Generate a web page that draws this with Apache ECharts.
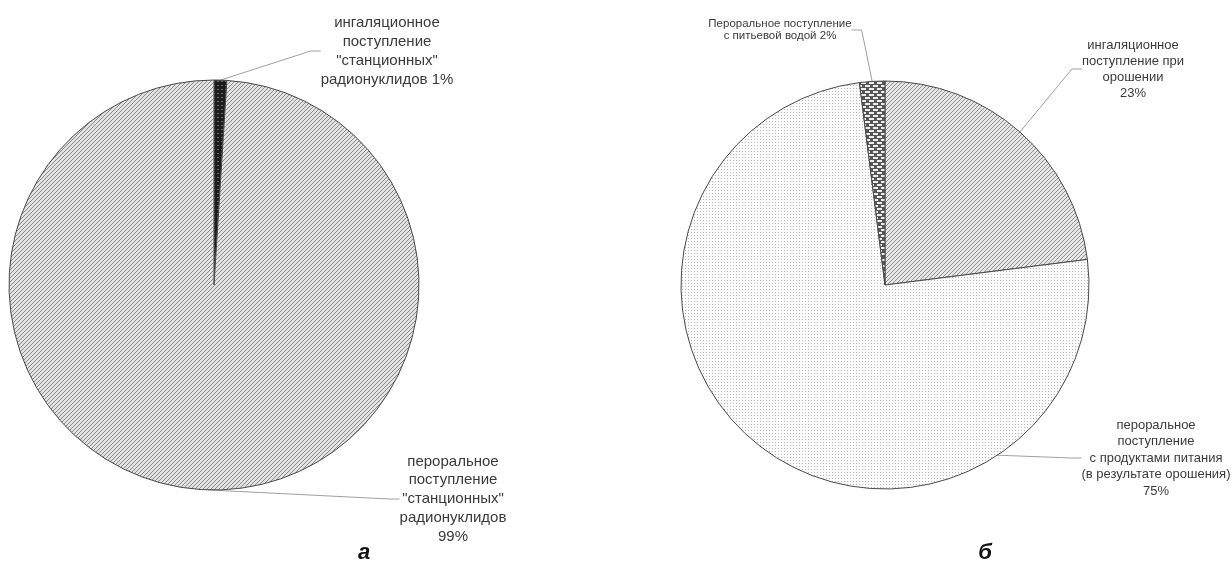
<!DOCTYPE html>
<html>
<head>
<meta charset="utf-8">
<script src="https://cdn.jsdelivr.net/npm/echarts@6/dist/echarts.min.js"></script>
<style>
html,body{margin:0;padding:0;background:#fff;}
#chart{width:1231px;height:561px;}
</style>
</head>
<body>
<div id="chart"></div>
<script>
// ---- data ----
const namesA = ['ингаляционное\nпоступление\n"станционных"\nрадионуклидов', 'пероральное\nпоступление\n"станционных"\nрадионуклидов'];
const valuesA = [1, 99];
const sepA = [' ', '\n'];

const namesB = ['ингаляционное\nпоступление при\nорошении', 'пероральное\nпоступление\nс продуктами питания\n(в результате орошения)', 'Пероральное поступление\nс питьевой водой'];
const valuesB = [23, 75, 2];
const sepB = ['\n', '\n', ' '];

const subtitles = ['а', 'б'];

// ---- fill patterns ----
function tile(w, h, draw) {
  const c = document.createElement('canvas');
  c.width = w; c.height = h;
  const g = c.getContext('2d');
  draw(g, w, h);
  return { image: c, repeat: 'repeat' };
}
const hatchPat = tile(4, 4, (g, w, h) => {
  g.fillStyle = '#e2e2e2'; g.fillRect(0, 0, w, h);
  for (let i = 0; i < w; i++) {
    g.fillStyle = '#8a8a8a'; g.fillRect(i, h - 1 - i, 1, 1);
  }
});
const hatchPatB = tile(4, 4, (g, w, h) => {
  g.fillStyle = '#e6e6e6'; g.fillRect(0, 0, w, h);
  for (let i = 0; i < w; i++) {
    g.fillStyle = '#909090'; g.fillRect(i, h - 1 - i, 1, 1);
  }
});
const darkPat = tile(4, 4, (g, w, h) => {
  g.fillStyle = '#1c1c1c'; g.fillRect(0, 0, w, h);
  g.fillStyle = '#6a6a6a'; g.fillRect(1, 1, 2, 1);
});
const dotPat = tile(3, 3, (g, w, h) => {
  g.fillStyle = '#fbfbfb'; g.fillRect(0, 0, w, h);
  g.fillStyle = '#b8b8b8'; g.fillRect(1, 1, 1, 1);
});
const brickPat = tile(8, 6, (g, w, h) => {
  g.fillStyle = '#555555'; g.fillRect(0, 0, w, h);
  g.fillStyle = '#eeeeee';
  g.fillRect(1, 1, 5, 2);
  g.fillRect(5, 4, 3, 2);
  g.fillRect(0, 4, 2, 2);
});

const patsA = [darkPat, hatchPat];
const patsB = [hatchPatB, dotPat, brickPat];

// label placement (style)
const layoutA = [
  { x: 387, y: 51, fontSize: 15, lineHeight: 19 },
  { x: 453, y: 499, fontSize: 15, lineHeight: 18.8 }
];
const layoutB = [
  { x: 1133, y: 69, fontSize: 13, lineHeight: 16 },
  { x: 1156, y: 458, fontSize: 13, lineHeight: 16.5 },
  { x: 780, y: 30, fontSize: 11.5, lineHeight: 11.5 }
];

const textColor = '#3a3a3a';
const fontFamily = '"Liberation Sans", Arial, sans-serif';

function buildData(names, values, seps, pats, layout) {
  return names.map((n, i) => ({
    name: n,
    value: values[i],
    itemStyle: { color: pats[i] },
    label: {
      formatter: p => p.name + seps[i] + p.value + '%',
      fontSize: layout[i].fontSize,
      lineHeight: layout[i].lineHeight
    }
  }));
}

const chart = echarts.init(document.getElementById('chart'), null, { renderer: 'canvas' });

const commonSeries = {
  type: 'pie',
  startAngle: 90,
  clockwise: true,
  avoidLabelOverlap: false,
  animation: false,
  silent: true,
  itemStyle: { borderColor: '#4a4a4a', borderWidth: 1 },
  label: {
    show: true,
    position: 'outside',
    color: textColor,
    fontFamily: fontFamily,
    align: 'center'
  },
  labelLine: {
    show: true,
    length: 20,
    length2: 10,
    lineStyle: { color: '#a0a0a0', width: 1 }
  },
  emphasis: { disabled: true }
};

const subStyle = { fontSize: 22, fontWeight: 'bold', fontStyle: 'italic', color: '#111', fontFamily: fontFamily };

chart.setOption({
  backgroundColor: '#ffffff',
  title: [
    { text: subtitles[0], left: 359, top: 537, textAlign: 'center', textStyle: subStyle },
    { text: subtitles[1], left: 980, top: 537, textAlign: 'center', textStyle: subStyle }
  ],
  series: [
    Object.assign({}, commonSeries, {
      center: [214, 285],
      radius: 205,
      data: buildData(namesA, valuesA, sepA, patsA, layoutA),
      labelLayout: p => ({ x: layoutA[p.dataIndex].x, y: layoutA[p.dataIndex].y, align: 'center', verticalAlign: 'middle' })
    }),
    Object.assign({}, commonSeries, {
      center: [885, 285],
      radius: 204,
      data: buildData(namesB, valuesB, sepB, patsB, layoutB),
      labelLayout: p => ({ x: layoutB[p.dataIndex].x, y: layoutB[p.dataIndex].y, align: 'center', verticalAlign: 'middle' })
    })
  ]
});
</script>
</body>
</html>
